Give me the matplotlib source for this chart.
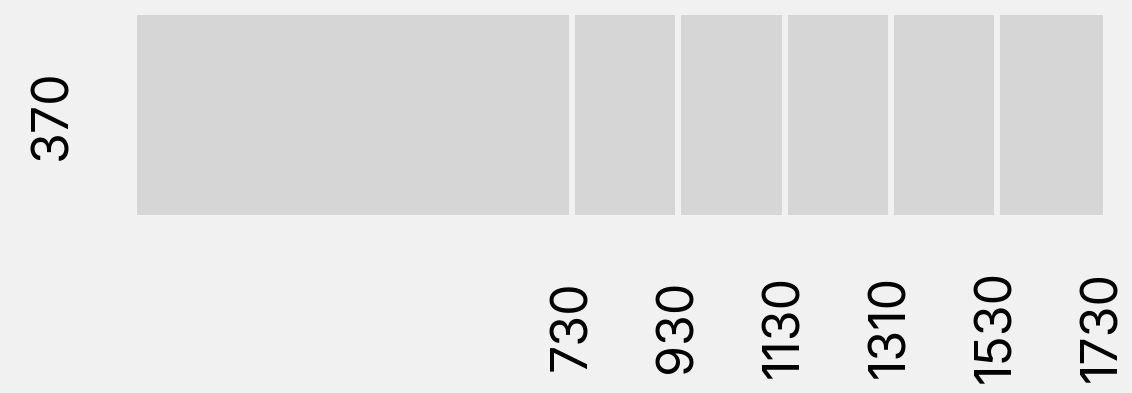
import matplotlib
matplotlib.use("Agg")
import matplotlib.pyplot as plt
import numpy as np

# Tile values
row_labels = ["370"]
col_labels = ["730", "930", "1130", "1310", "1530", "1730"]
col_spans = [4.1, 1, 1, 1, 1, 1]

BG = "#f1f1f1"
TILE = "#d6d6d6"
FONT = "Inter"
FS = 36

W, H = 1132, 393
fig = plt.figure(figsize=(W / 100, H / 100), dpi=100, facecolor=BG)
ax = fig.add_axes([137 / W, 1 - 215 / H, (1103 - 137) / W, 200 / H])
ax.set_facecolor(BG)

edges = np.concatenate([[0], np.cumsum(col_spans)])
gap = 6 / ((1103 - 137) / edges[-1])
n = len(col_spans)
for i in range(n):
    left = edges[i] + (gap / 2 if i > 0 else 0)
    right = edges[i + 1] - (gap / 2 if i < n - 1 else 0)
    ax.bar(left, 1, width=right - left, bottom=0, align="edge",
           color=TILE, linewidth=0)

ax.set_xlim(0, edges[-1])
ax.set_ylim(0, 1)
for s in ax.spines.values():
    s.set_visible(False)

ax.set_xticks(edges[1:])
ax.set_xticklabels(col_labels, rotation=90, va="center", ha="center",
                   fontsize=FS, family=FONT)
ax.set_yticks([0.5])
ax.set_yticklabels(row_labels, rotation=90, va="center", ha="right",
                   fontsize=FS, family=FONT)
ax.tick_params(axis="x", length=0, pad=80)
ax.tick_params(axis="y", length=0, pad=44)

fig.savefig("out.png", dpi=100, facecolor=BG)
